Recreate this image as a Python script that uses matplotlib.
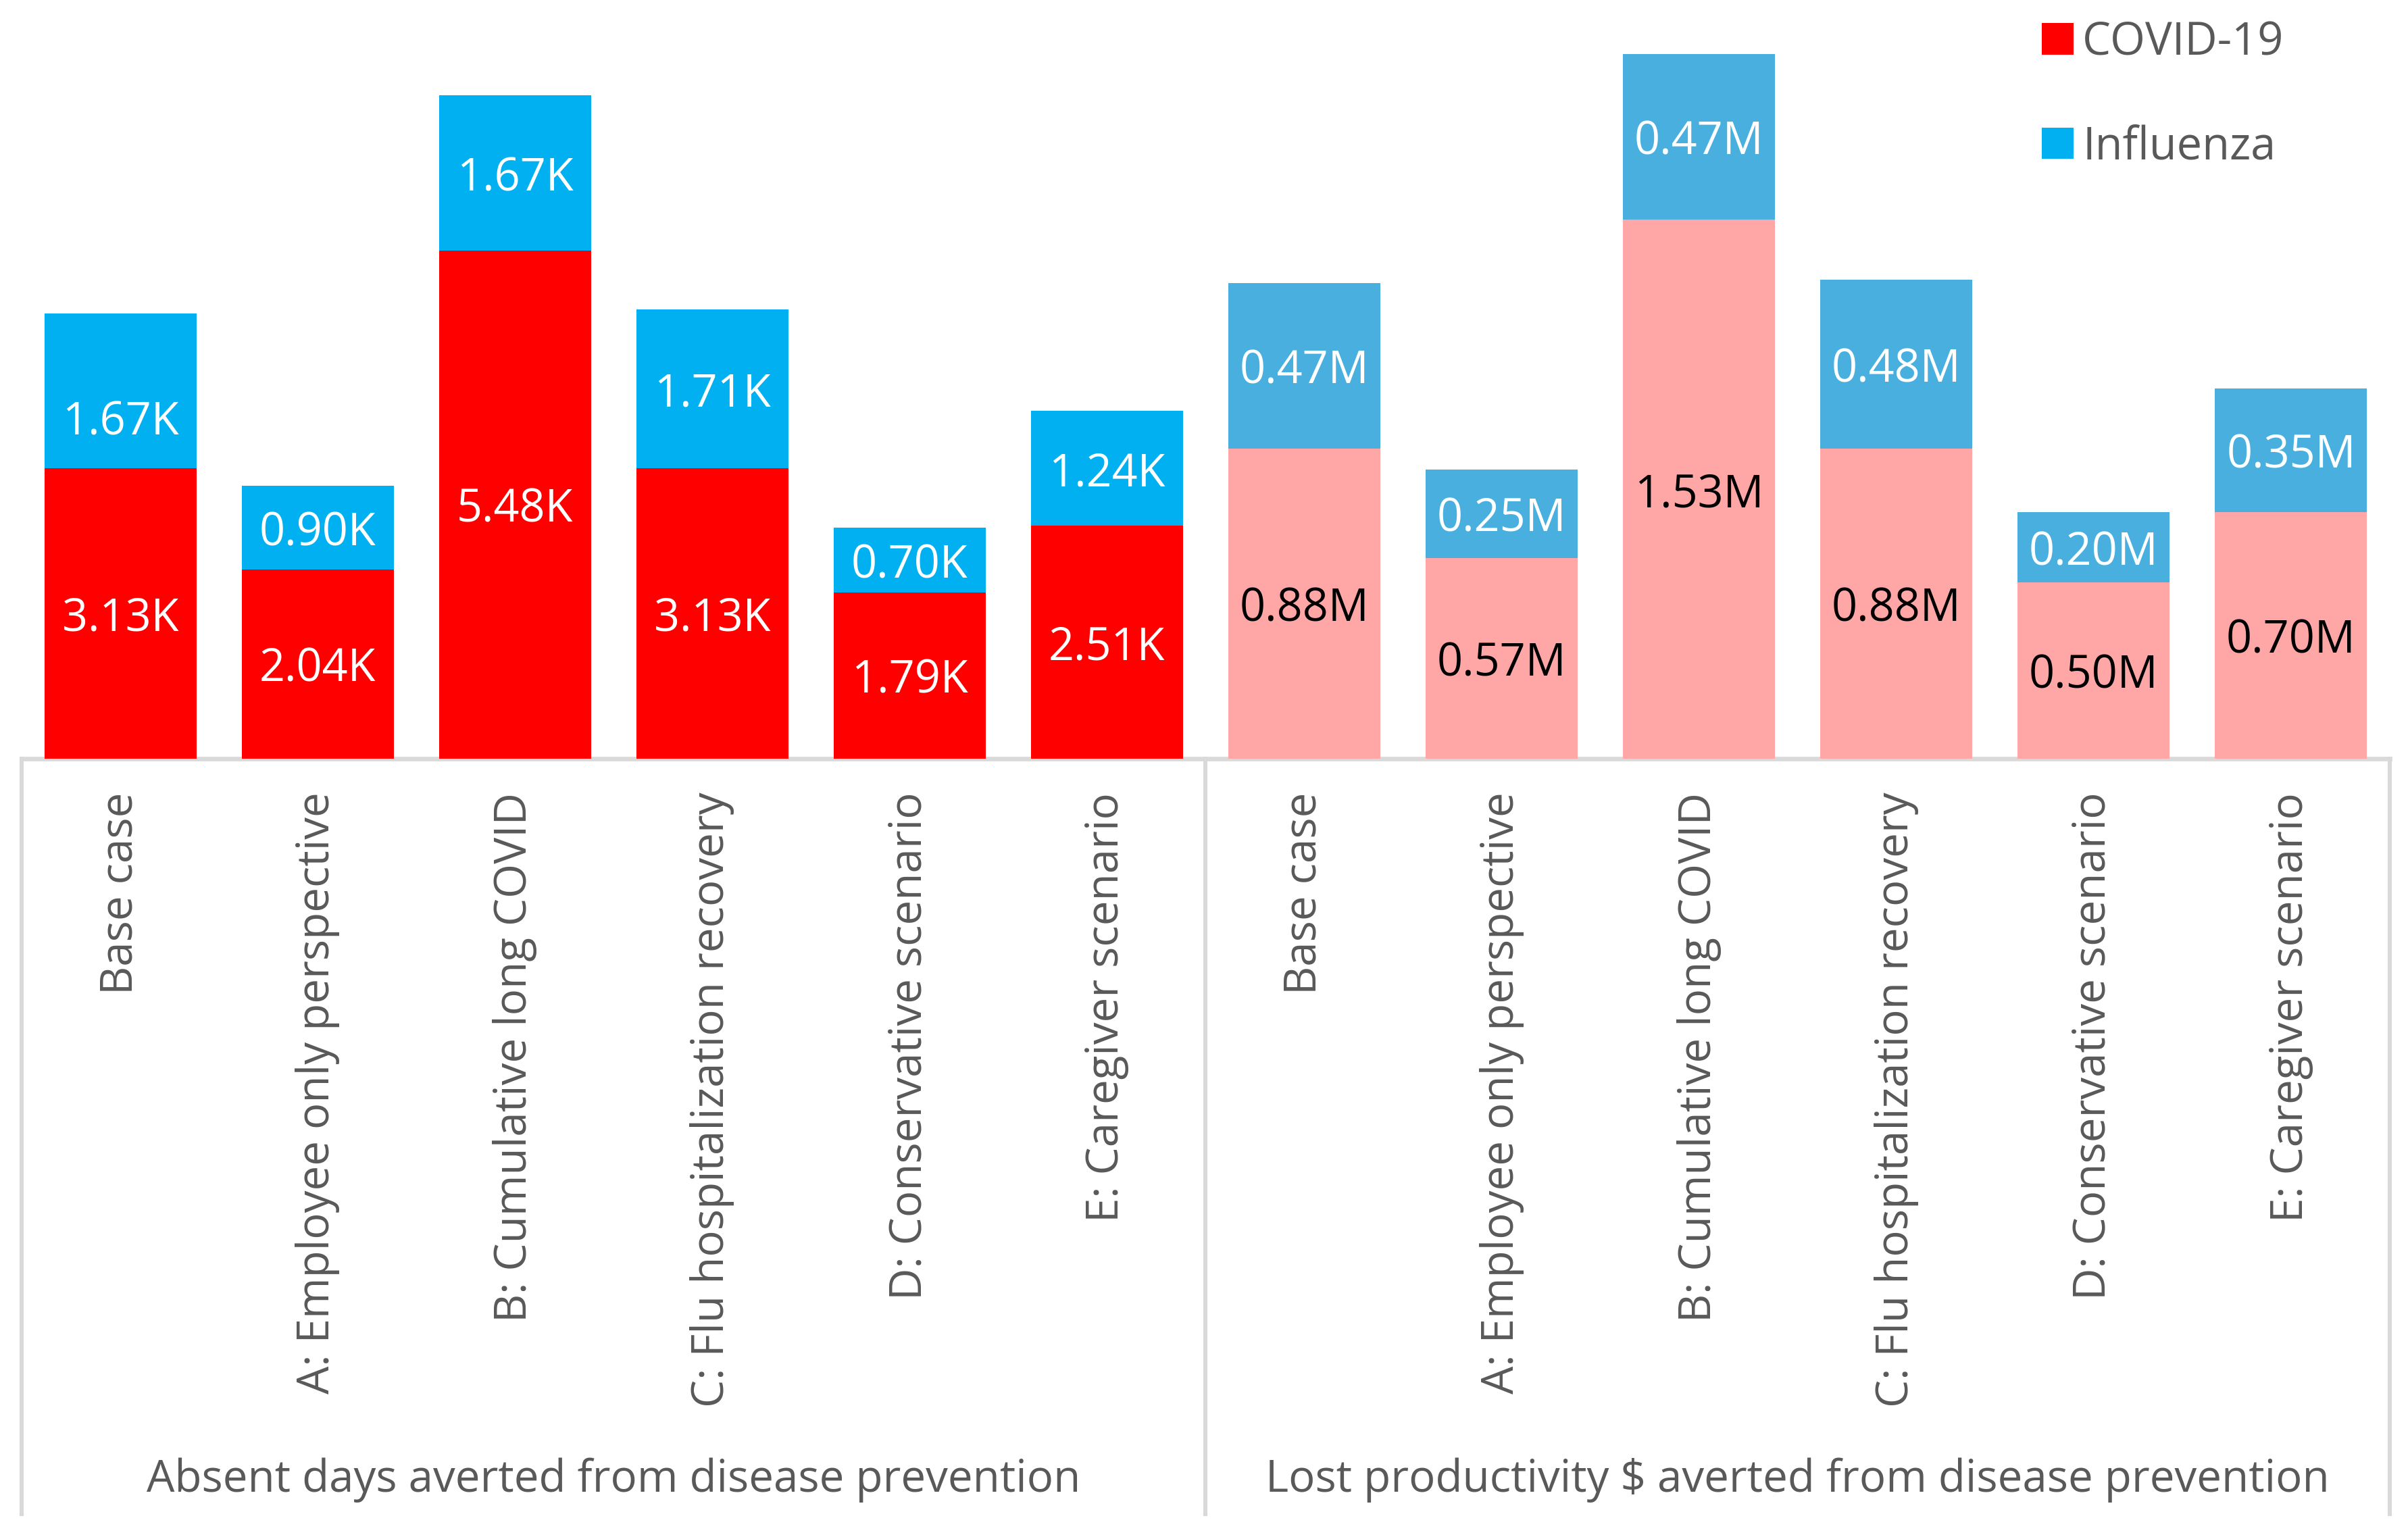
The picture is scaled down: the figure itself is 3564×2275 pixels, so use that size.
import matplotlib.pyplot as plt
import matplotlib.transforms as mtransforms

# scenario names (same set for both panels)
scenarios = ["Base case", "A: Employee only perspective", "B: Cumulative long COVID",
             "C: Flu hospitalization recovery", "D: Conservative scenario", "E: Caregiver scenario"]
group_titles = ["Absent days averted from disease prevention",
                "Lost productivity $ averted from disease prevention"]

# absent days averted (thousands)
days_covid = [3.13, 2.04, 5.48, 3.13, 1.79, 2.51]
days_flu = [1.67, 0.90, 1.67, 1.71, 0.70, 1.24]

# lost productivity averted (million $)
dollars_covid = [0.88, 0.57, 1.53, 0.88, 0.50, 0.70]
dollars_flu = [0.47, 0.25, 0.47, 0.48, 0.20, 0.35]

plt.rcParams['font.family'] = ['Open Sans', 'DejaVu Sans']
GRAY_TXT = '#595959'
GRAY_LINE = '#D9D9D9'

fig = plt.figure(figsize=(17.82, 11.375), dpi=200)
ax = fig.add_axes([0.009, 0.5065, 0.9834, 0.4935])
ax2 = ax.twinx()

n = len(scenarios)
x_left = list(range(n))
x_right = [i + n for i in range(n)]
w = 0.77

b1 = ax.bar(x_left, days_covid, w, color='#FF0000', label='COVID-19', zorder=2)
b2 = ax.bar(x_left, days_flu, w, bottom=days_covid, color='#00B0F0', label='Influenza', zorder=2)
b3 = ax2.bar(x_right, dollars_covid, w, color='#FFA7A7', zorder=2)
b4 = ax2.bar(x_right, dollars_flu, w, bottom=dollars_covid, color='#48AFDF', zorder=2)

fs = 24
all_lbls = []
all_lbls += ax.bar_label(b1, labels=[f"{v:.2f}K" for v in days_covid], label_type='center', color='white', fontsize=fs)
flu_lbls = ax.bar_label(b2, labels=[f"{v:.2f}K" for v in days_flu], label_type='center', color='white', fontsize=fs)
all_lbls += flu_lbls
all_lbls += ax2.bar_label(b3, labels=[f"{v:.2f}M" for v in dollars_covid], label_type='center', color='black', fontsize=fs)
all_lbls += ax2.bar_label(b4, labels=[f"{v:.2f}M" for v in dollars_flu], label_type='center', color='white', fontsize=fs)
for t in all_lbls:
    t.xyann = (0, -3)
flu_lbls[0].xyann = (0, -17)  # base case label sits a bit low in the original

ax.set_xlim(-0.5, 2 * n - 0.5)
ax.set_ylim(0, 8.18)
ax2.set_ylim(0, 2.154)

for a in (ax, ax2):
    for s in a.spines.values():
        s.set_visible(False)
    a.set_yticks([])
ax2.tick_params(axis='x', length=0)

ax.set_xticks(x_left + x_right)
ax.set_xticklabels(scenarios * 2, rotation=90, va='top', ha='center', color=GRAY_TXT, fontsize=23.6)
ax.tick_params(axis='x', length=0, pad=18)

# baseline and group separators
ax.axhline(0, color=GRAY_LINE, lw=2.4, zorder=1, clip_on=False)
trans = mtransforms.blended_transform_factory(ax.transData, ax.transAxes)
for xs in [-0.5, n - 0.5, 2 * n - 0.5]:
    ax.plot([xs, xs], [0, -0.996], transform=trans, color=GRAY_LINE, lw=2.2, clip_on=False)

trans_fig = mtransforms.blended_transform_factory(ax.transData, fig.transFigure)
for i, title in enumerate(group_titles):
    ax.text(i * n + (n - 1) / 2, 0.037, title, transform=trans_fig, ha='center', va='center',
            color=GRAY_TXT, fontsize=23.6)

ax.legend(handles=[b1, b2], loc='upper left', bbox_to_anchor=(0.848, 0.987),
          bbox_transform=fig.transFigure, frameon=False, fontsize=fs, labelcolor=GRAY_TXT,
          handlelength=0.7, handleheight=0.7, handletextpad=0.2, labelspacing=1.3,
          borderpad=0, borderaxespad=0)

fig.savefig("out.png", dpi=200, facecolor='white')
